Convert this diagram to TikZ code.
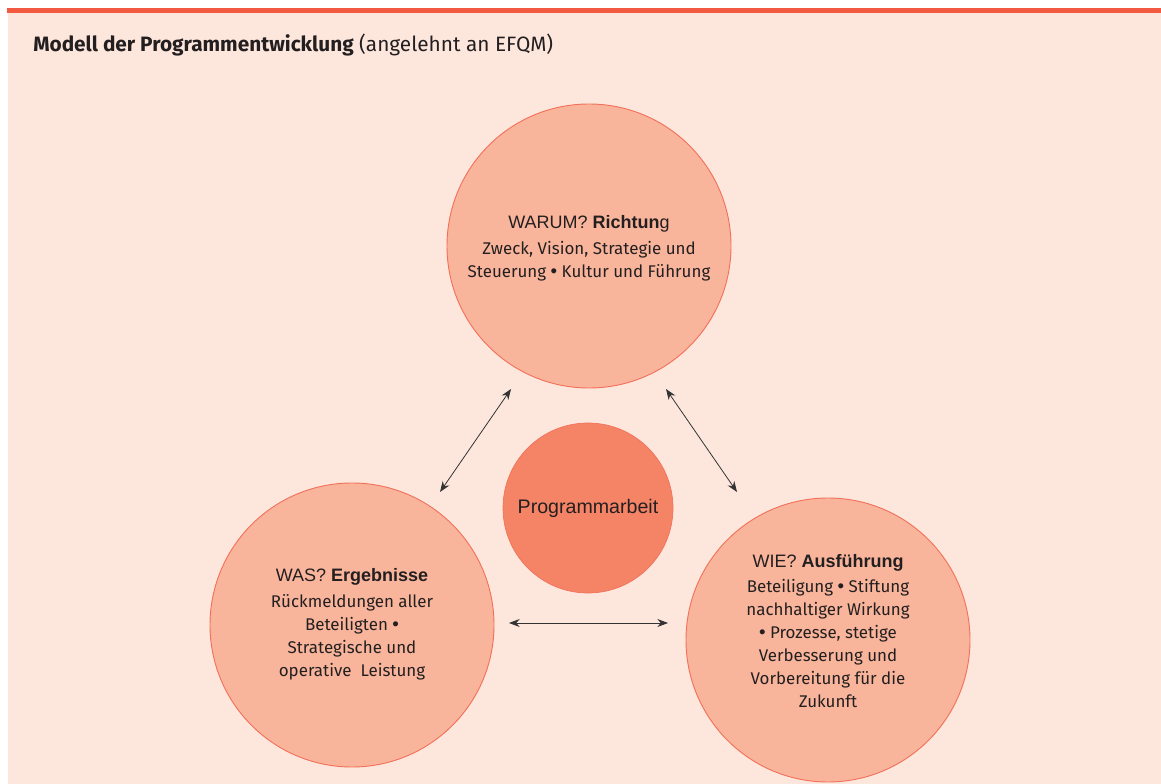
\documentclass[tikz,border=0pt]{standalone}
\usepackage{fontspec}
\setmainfont{Fira Sans}
\newfontfamily\headfont{Liberation Sans}
\usetikzlibrary{arrows.meta}
\definecolor{bgpink}{HTML}{FDE7DD}
\definecolor{barred}{HTML}{F15A40}
\definecolor{ringfill}{HTML}{F9B59B}
\definecolor{ringline}{HTML}{F3715A}
\definecolor{corefill}{HTML}{F48465}
\definecolor{textdark}{HTML}{231F20}
\newcommand\bigdot{{\headfont\fontsize{14}{16}\selectfont •}}
\begin{document}
\begin{tikzpicture}[x=0.75pt,y=-0.75pt,
    ring/.style={circle,draw=ringline,fill=ringfill,line width=0.7pt,
      minimum size=213pt,inner sep=0pt},
    ringtext/.style={align=center,text=textdark,
      font=\fontsize{12.7}{17.25}\selectfont},
    core/.style={circle,draw=ringline,fill=corefill,line width=0.5pt,
      minimum size=127.5pt,inner sep=0pt,text=textdark,
      font=\headfont\fontsize{14.7}{16}\selectfont},
    link/.style={{Stealth[length=8pt,width=6pt]}-{Stealth[length=8pt,width=6pt]},
      draw=black!80,line width=0.6pt}]
  \useasboundingbox (0,0) rectangle (1161,784);
  \fill[bgpink] (8,13) rectangle (1161,784);
  \fill[barred] (7,8) rectangle (1161,13);
  \node[anchor=base west,inner sep=0pt,text=textdark,font=\fontsize{15.6}{18}\selectfont]
    (title) at (33,52) {\textbf{Modell der Programmentwicklung} (angelehnt an EFQM)};
  % the three circles and the core
  \node[ring] (warum) at (589,246) {};
  \node[ring] (was) at (352,625) {};
  \node[ring] (wie) at (828,640) {};
  \node[core] (arbeit) at (588,508) {Programmarbeit};
  \node[ringtext] (warum text) at (589,248)
    {{\headfont\fontsize{13.5}{16}\selectfont WARUM? \textbf{Richtun}g}\\[2pt]
     Zweck, Vision, Strategie und\\ Steuerung \bigdot{} Kultur und Führung};
  \node[ringtext] (was text) at (352,624)
    {{\headfont\fontsize{13.5}{16}\selectfont WAS? \textbf{Ergebnisse}}\\[2pt]
     Rückmeldungen aller\\ Beteiligten \bigdot\\ Strategische und\\ operative~~Leistung};
  \node[ringtext] (wie text) at (828,631)
    {{\headfont\fontsize{13.5}{16}\selectfont WIE? \textbf{Ausführung}}\\[2pt]
     Beteiligung \bigdot{} Stiftung\\ nachhaltiger Wirkung\\ \bigdot{} Prozesse, stetige\\
     Verbesserung und\\ Vorbereitung für die\\ Zukunft};
  % arrow ends
  \coordinate (l1) at (440,492);
  \coordinate (l2) at (511,389);
  \coordinate (r1) at (666,389);
  \coordinate (r2) at (737,492);
  \coordinate (h1) at (509,623);
  \coordinate (h2) at (668,623);
  \begin{scope}[link]
    \draw (l1) to (l2);
    \draw (r1) to (r2);
    \draw (h1) to (h2);
  \end{scope}
\end{tikzpicture}
\end{document}
